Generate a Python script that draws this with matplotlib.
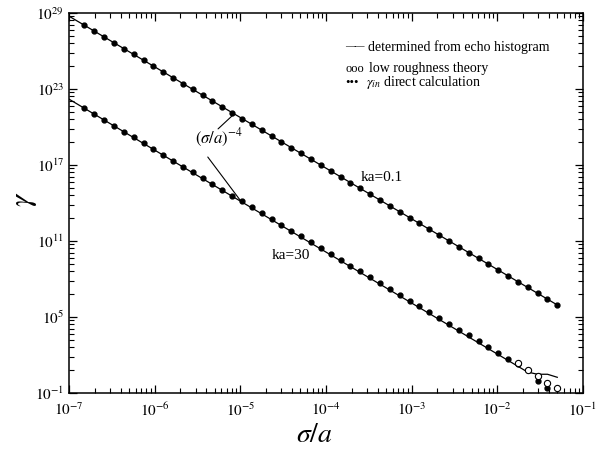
import numpy as np
import matplotlib
matplotlib.use("Agg")
import matplotlib.pyplot as plt
from matplotlib.ticker import FixedLocator, FuncFormatter, NullFormatter

plt.rcParams['font.family'] = ['Liberation Serif', 'DejaVu Serif']
plt.rcParams['mathtext.fontset'] = 'stix'

# ==================== Data ====================
# roughness sigma/a at the sample points
sigma = [1.51e-7, 1.97e-7, 2.57e-7, 3.35e-7, 4.37e-7, 5.69e-7, 7.41e-7, 9.66e-7,
         1.26e-6, 1.64e-6, 2.14e-6, 2.79e-6, 3.63e-6, 4.73e-6, 6.17e-6, 8.04e-6,
         1.05e-5, 1.36e-5, 1.78e-5, 2.32e-5, 3.02e-5, 3.94e-5, 5.13e-5, 6.68e-5,
         8.71e-5, 1.14e-4, 1.48e-4, 1.93e-4, 2.51e-4, 3.27e-4, 4.27e-4, 5.56e-4,
         7.24e-4, 9.44e-4, 1.23e-3, 1.60e-3, 2.09e-3, 2.72e-3, 3.55e-3, 4.62e-3,
         6.03e-3, 7.85e-3, 1.02e-2, 1.33e-2, 1.74e-2, 2.26e-2, 2.95e-2, 3.85e-2,
         5.01e-2]

# log10(gamma_in), direct calculation
log_gamma_ka01 = [28.03, 27.57, 27.11, 26.65, 26.19, 25.73, 25.27, 24.81, 24.35,
                  23.89, 23.43, 22.97, 22.51, 22.05, 21.59, 21.13, 20.67, 20.21,
                  19.75, 19.29, 18.83, 18.37, 17.91, 17.45, 16.99, 16.53, 16.07,
                  15.61, 15.15, 14.69, 14.23, 13.77, 13.31, 12.85, 12.39, 11.93,
                  11.47, 11.01, 10.55, 10.09, 9.63, 9.17, 8.71, 8.25, 7.79, 7.33,
                  6.87, 6.41, 5.95]
log_gamma_ka30 = [21.48, 21.02, 20.56, 20.10, 19.64, 19.18, 18.72, 18.26, 17.80,
                  17.34, 16.88, 16.42, 15.96, 15.50, 15.04, 14.58, 14.12, 13.66,
                  13.20, 12.74, 12.28, 11.82, 11.36, 10.90, 10.44, 9.98, 9.52,
                  9.06, 8.60, 8.14, 7.68, 7.22, 6.76, 6.30, 5.84, 5.38, 4.92,
                  4.46, 4.00, 3.54, 3.08, 2.62, 2.16, 1.70, 1.27, 0.78, -0.05,
                  -0.62]

# low roughness theory (ka=30, only visible at the large-roughness end)
sigma_theory = [1.74e-2, 2.26e-2, 2.95e-2, 3.85e-2, 5.01e-2]
log_gamma_theory = [1.35, 0.82, 0.35, -0.18, -0.62]

# determined from echo histogram
sigma_echo01 = [1.0e-7, 5.01e-2]
log_echo01 = [28.75, 5.95]
sigma_echo30 = [1.0e-7, 2.26e-2, 2.95e-2, 3.85e-2, 5.01e-2]
log_echo30 = [22.2, 0.65, 0.48, 0.48, 0.24]

x_major_exp = [-7, -6, -5, -4, -3, -2, -1]
y_major_exp = [-1, 5, 11, 17, 23, 29]

# ==================== Figure ====================
fig = plt.figure(figsize=(6.01, 4.51), dpi=100)
ax = fig.add_axes([69/601, 1 - 393/451, 514/601, 380/451])

ax.plot(sigma_echo01, 10.0**np.array(log_echo01), color='black', lw=0.9)
ax.plot(sigma_echo30, 10.0**np.array(log_echo30), color='black', lw=0.9)
ax.plot(sigma, 10.0**np.array(log_gamma_ka01), 'o', color='black', ms=3.5)
ax.plot(sigma[:len(log_gamma_ka30)], 10.0**np.array(log_gamma_ka30), 'o',
        color='black', ms=3.5)
ax.plot(sigma_theory, 10.0**np.array(log_gamma_theory), 'o', mfc='white',
        mec='black', mew=0.8, ms=4.5)

ax.set_xscale('log')
ax.set_yscale('log')
ax.set_xlim(1e-7, 1e-1)
ax.set_ylim(1e-1, 1e29)

fmt = FuncFormatter(lambda v, p: r'$10^{%d}$' % round(np.log10(v)))

# x ticks
ax.xaxis.set_major_locator(FixedLocator([10.0**e for e in x_major_exp]))
x_minor = [k * 10.0**e for e in x_major_exp[:-1] for k in range(2, 10)]
ax.xaxis.set_minor_locator(FixedLocator(x_minor))
ax.xaxis.set_minor_formatter(NullFormatter())
ax.xaxis.set_major_formatter(fmt)

# y ticks: majors every 6 decades, minors spaced like a "decade" of 6 decades
ax.yaxis.set_major_locator(FixedLocator([10.0**e for e in y_major_exp]))
y_minor = [10.0**(e + 6*np.log10(k)) for e in y_major_exp[:-1] for k in range(2, 10)]
ax.yaxis.set_minor_locator(FixedLocator(y_minor))
ax.yaxis.set_minor_formatter(NullFormatter())
ax.yaxis.set_major_formatter(fmt)

ax.tick_params(which='both', direction='in', top=True, right=True, labelsize=11)
ax.tick_params(which='major', length=6, width=0.9)
ax.tick_params(which='minor', length=3.5, width=0.8)
ax.tick_params(axis='x', pad=6)
for s in ax.spines.values():
    s.set_linewidth(1.1)

ax.set_xlabel(r'$\sigma/a$', fontsize=20, va='top')
ax.xaxis.set_label_coords(0.478, -0.078)
ax.set_ylabel(r'$\gamma$', fontsize=22, va='center')
ax.yaxis.set_label_coords(-0.087, 0.51)

# ==================== Annotations ====================
ax.text(0.292, 0.671, r'$(\sigma/a)^{-4}$', transform=ax.transAxes,
        fontsize=12, ha='center', va='center')
ax.annotate('', xy=(8.5e-6, 1.1e21), xycoords='data',
            xytext=(0.290, 0.695), textcoords='axes fraction',
            arrowprops=dict(arrowstyle='-', lw=0.8, shrinkA=0, shrinkB=0))
ax.annotate('', xy=(1.0e-5, 1.6e14), xycoords='data',
            xytext=(0.270, 0.621), textcoords='axes fraction',
            arrowprops=dict(arrowstyle='-', lw=0.8, shrinkA=0, shrinkB=0))
ax.text(0.609, 0.568, 'ka=0.1', transform=ax.transAxes, fontsize=11,
        ha='center', va='center')
ax.text(0.432, 0.363, 'ka=30', transform=ax.transAxes, fontsize=11,
        ha='center', va='center')

# legend drawn as text
ax.text(0.537, 0.911, '——', transform=ax.transAxes, fontsize=7, va='center')
ax.text(0.582, 0.911, 'determined from echo histogram', transform=ax.transAxes,
        fontsize=10, va='center')
ax.text(0.537, 0.852, 'ooo', transform=ax.transAxes, fontsize=9, va='center')
ax.text(0.584, 0.855, 'low roughness theory', transform=ax.transAxes,
        fontsize=10, va='center')
ax.text(0.537, 0.816, '•••', transform=ax.transAxes, fontsize=9, va='center')
ax.text(0.577, 0.816, r'$\gamma_{in}$ direct calculation', transform=ax.transAxes,
        fontsize=10, va='center')

fig.savefig('out.png', dpi=100)
